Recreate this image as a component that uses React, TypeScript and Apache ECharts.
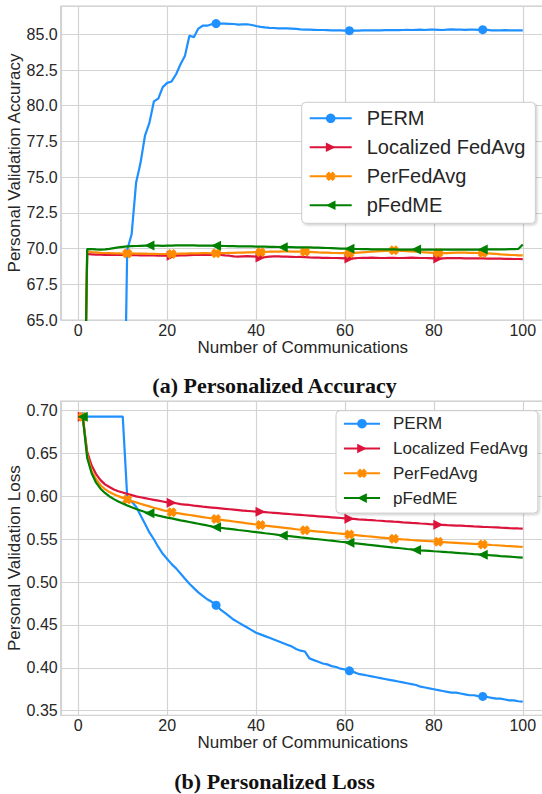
import React, { useEffect, useRef } from "react";
import * as echarts from "echarts";

const communications = Array.from({ length: 100 }, (_, i) => i + 1);
const seriesNames = ["PERM", "Localized FedAvg", "PerFedAvg", "pFedME"];
const xTicks = [0, 20, 40, 60, 80, 100];
const accTicks = [65.0, 67.5, 70.0, 72.5, 75.0, 77.5, 80.0, 82.5, 85.0];
const lossTicks = [0.35, 0.4, 0.45, 0.5, 0.55, 0.6, 0.65, 0.7];

const permAcc = [
  50, 50, 50, 50, 50, 50, 50, 50, 50, 50,
  69.9, 71.0, 74.6, 76.0, 77.9, 78.8, 80.3, 80.5, 81.3, 81.6,
  81.7, 82.2, 82.9, 83.5, 84.9, 84.8, 85.4, 85.6, 85.6, 85.7,
  85.75, 85.75, 85.74, 85.73, 85.72, 85.68, 85.7, 85.7, 85.65, 85.58,
  85.52, 85.48, 85.45, 85.44, 85.42, 85.42, 85.41, 85.4, 85.38, 85.34,
  85.32, 85.32, 85.31, 85.3, 85.3, 85.29, 85.28, 85.28, 85.27, 85.26,
  85.25, 85.26, 85.26, 85.27, 85.27, 85.27, 85.28, 85.28, 85.29, 85.29,
  85.3, 85.29, 85.3, 85.31, 85.3, 85.31, 85.32, 85.3, 85.33, 85.32,
  85.31, 85.3, 85.32, 85.34, 85.33, 85.32, 85.31, 85.33, 85.32, 85.31,
  85.32, 85.31, 85.28, 85.27, 85.28, 85.29, 85.28, 85.28, 85.27, 85.28,
];
const localizedAcc = [
  50, 69.62, 69.6, 69.58, 69.57, 69.56, 69.56, 69.55, 69.55, 69.55,
  69.54, 69.55, 69.54, 69.53, 69.53, 69.52, 69.52, 69.51, 69.5, 69.51,
  69.5, 69.5, 69.52, 69.53, 69.54, 69.55, 69.55, 69.56, 69.55, 69.56,
  69.57, 69.55, 69.52, 69.5, 69.45, 69.43, 69.45, 69.47, 69.46, 69.44,
  69.38, 69.4, 69.43, 69.45, 69.45, 69.44, 69.43, 69.42, 69.41, 69.42,
  69.4, 69.38, 69.37, 69.36, 69.35, 69.35, 69.34, 69.34, 69.33, 69.32,
  69.3, 69.32, 69.34, 69.35, 69.35, 69.36, 69.35, 69.34, 69.34, 69.35,
  69.35, 69.34, 69.34, 69.35, 69.36, 69.35, 69.34, 69.34, 69.33, 69.32,
  69.3, 69.32, 69.33, 69.34, 69.33, 69.33, 69.32, 69.32, 69.31, 69.32,
  69.31, 69.3, 69.3, 69.29, 69.29, 69.28, 69.28, 69.27, 69.27, 69.26,
];
const perFedAvgAcc = [
  50, 69.8, 69.76, 69.73, 69.7, 69.69, 69.68, 69.67, 69.66, 69.65,
  69.65, 69.66, 69.65, 69.64, 69.64, 69.63, 69.63, 69.62, 69.62, 69.62,
  69.62, 69.63, 69.64, 69.65, 69.66, 69.67, 69.67, 69.68, 69.68, 69.67,
  69.67, 69.68, 69.69, 69.7, 69.7, 69.71, 69.72, 69.73, 69.74, 69.75,
  69.75, 69.76, 69.78, 69.78, 69.79, 69.8, 69.8, 69.79, 69.79, 69.79,
  69.78, 69.77, 69.75, 69.73, 69.72, 69.72, 69.7, 69.69, 69.68, 69.68,
  69.68, 69.7, 69.72, 69.74, 69.76, 69.78, 69.8, 69.82, 69.84, 69.86,
  69.88, 69.86, 69.84, 69.82, 69.8, 69.78, 69.76, 69.74, 69.72, 69.7,
  69.69, 69.68, 69.68, 69.7, 69.71, 69.72, 69.71, 69.7, 69.7, 69.69,
  69.69, 69.67, 69.65, 69.63, 69.6, 69.58, 69.56, 69.55, 69.53, 69.52,
];
const pFedMEAcc = [
  50, 69.97, 69.96, 69.94, 69.93, 69.94, 69.98, 70.03, 70.08, 70.12,
  70.15, 70.17, 70.18, 70.19, 70.2, 70.21, 70.2, 70.2, 70.19, 70.2,
  70.21, 70.22, 70.22, 70.23, 70.22, 70.22, 70.21, 70.21, 70.2, 70.2,
  70.2, 70.19, 70.18, 70.17, 70.17, 70.16, 70.16, 70.15, 70.15, 70.14,
  70.13, 70.13, 70.12, 70.12, 70.11, 70.1, 70.1, 70.1, 70.09, 70.09,
  70.08, 70.08, 70.07, 70.06, 70.05, 70.04, 70.03, 70.02, 70.0, 69.99,
  69.98, 69.97, 69.97, 69.96, 69.96, 69.95, 69.95, 69.95, 69.94, 69.94,
  69.94, 69.93, 69.93, 69.93, 69.93, 69.93, 69.92, 69.92, 69.92, 69.92,
  69.92, 69.92, 69.92, 69.93, 69.93, 69.93, 69.93, 69.93, 69.93, 69.93,
  69.93, 69.94, 69.94, 69.94, 69.95, 69.95, 69.96, 69.96, 69.97, 70.28,
];

const permLoss = [
  0.693, 0.693, 0.693, 0.693, 0.693, 0.693, 0.693, 0.693, 0.693, 0.693,
  0.6, 0.594, 0.588, 0.578, 0.568, 0.558, 0.55, 0.541, 0.533, 0.527,
  0.521, 0.516, 0.51, 0.504, 0.498, 0.493, 0.488, 0.484, 0.48, 0.477,
  0.473, 0.468, 0.464, 0.46, 0.456, 0.453, 0.45, 0.447, 0.444, 0.441,
  0.439, 0.437, 0.435, 0.433, 0.431, 0.429, 0.427, 0.425, 0.422, 0.42,
  0.419, 0.411, 0.409, 0.407, 0.405, 0.404, 0.402, 0.401, 0.399, 0.398,
  0.3965, 0.395, 0.393, 0.392, 0.391, 0.39, 0.389, 0.388, 0.387, 0.386,
  0.385, 0.384, 0.383, 0.382, 0.381, 0.38, 0.378, 0.377, 0.376, 0.375,
  0.374, 0.373, 0.372, 0.371, 0.371, 0.37, 0.369, 0.368, 0.368, 0.367,
  0.3666, 0.366, 0.365, 0.364, 0.364, 0.363, 0.362, 0.362, 0.361, 0.3605,
];
const localizedLoss = [
  0.693, 0.652, 0.636, 0.626, 0.619, 0.614, 0.611, 0.608, 0.606, 0.6045,
  0.603, 0.6015, 0.6, 0.599, 0.598, 0.597, 0.596, 0.595, 0.594, 0.593,
  0.5925, 0.592, 0.591, 0.5905, 0.59, 0.5893, 0.5887, 0.588, 0.5875, 0.587,
  0.5865, 0.586, 0.5855, 0.585, 0.5845, 0.584, 0.5835, 0.583, 0.5827, 0.5823,
  0.582, 0.5816, 0.5812, 0.5808, 0.5804, 0.58, 0.5796, 0.5792, 0.5788, 0.5784,
  0.578, 0.5776, 0.5772, 0.5768, 0.5764, 0.576, 0.5756, 0.5752, 0.5748, 0.5744,
  0.574, 0.5737, 0.5733, 0.573, 0.5726, 0.5723, 0.5719, 0.5716, 0.5712, 0.5709,
  0.5705, 0.5702, 0.5698, 0.5695, 0.5691, 0.5688, 0.5684, 0.5681, 0.5677, 0.5674,
  0.567, 0.5668, 0.5665, 0.5663, 0.566, 0.5658, 0.5655, 0.5653, 0.565, 0.5648,
  0.5645, 0.5643, 0.564, 0.5638, 0.5635, 0.5633, 0.563, 0.5628, 0.5626, 0.5625,
];
const perFedAvgLoss = [
  0.693, 0.648, 0.63, 0.62, 0.613, 0.6085, 0.605, 0.6025, 0.6003, 0.5983,
  0.5965, 0.5947, 0.593, 0.5914, 0.5898, 0.5883, 0.5868, 0.5854, 0.584, 0.5827,
  0.5815, 0.5807, 0.5799, 0.5791, 0.5783, 0.5775, 0.5767, 0.5759, 0.5751, 0.5743,
  0.5735, 0.5728, 0.5721, 0.5714, 0.5707, 0.57, 0.5693, 0.5686, 0.5679, 0.5672,
  0.5665, 0.5659, 0.5653, 0.5647, 0.5641, 0.5635, 0.5629, 0.5623, 0.5617, 0.5611,
  0.5605, 0.56, 0.5595, 0.559, 0.5585, 0.558, 0.5575, 0.557, 0.5565, 0.556,
  0.5555, 0.555, 0.5545, 0.554, 0.5535, 0.553, 0.5525, 0.552, 0.5515, 0.551,
  0.5505, 0.5502, 0.5498, 0.5495, 0.5491, 0.5488, 0.5484, 0.5481, 0.5477, 0.5474,
  0.547, 0.5467, 0.5464, 0.5461, 0.5458, 0.5455, 0.5452, 0.5449, 0.5446, 0.5443,
  0.544, 0.5437, 0.5433, 0.543, 0.5427, 0.5423, 0.542, 0.5417, 0.5413, 0.541,
];
const pFedMELoss = [
  0.693, 0.645, 0.627, 0.616, 0.609, 0.604, 0.6, 0.5968, 0.594, 0.5916,
  0.5895, 0.5873, 0.5853, 0.5835, 0.5818, 0.5803, 0.5789, 0.5776, 0.5764, 0.5753,
  0.5743, 0.5732, 0.5721, 0.5711, 0.5701, 0.5691, 0.5681, 0.5671, 0.5661, 0.565,
  0.564, 0.5634, 0.5627, 0.5621, 0.5615, 0.5608, 0.5602, 0.5596, 0.5589, 0.5583,
  0.5577, 0.557, 0.5564, 0.5558, 0.5551, 0.5545, 0.5539, 0.5534, 0.5528, 0.5522,
  0.5517, 0.5511, 0.5505, 0.55, 0.5494, 0.5488, 0.5483, 0.5477, 0.5471, 0.5466,
  0.546, 0.5454, 0.5449, 0.5443, 0.5437, 0.5432, 0.5426, 0.542, 0.5415, 0.5409,
  0.5403, 0.5398, 0.5392, 0.5386, 0.5381, 0.5375, 0.5371, 0.5368, 0.5364, 0.536,
  0.5357, 0.5353, 0.5349, 0.5346, 0.5342, 0.5338, 0.5335, 0.5331, 0.5327, 0.5324,
  0.532, 0.5316, 0.5312, 0.5308, 0.5304, 0.5301, 0.5297, 0.5293, 0.5289, 0.5285,
];

const COLORS = ["#1E90FF", "#DC143C", "#FF8C00", "#008000"];
const SYMBOLS = [
  "circle",
  "path://M0,0L10,5L0,10Z",
  "path://M0,3L3,0L5,2L7,0L10,3L8,5L10,7L7,10L5,8L3,10L0,7L2,5Z",
  "path://M10,0L0,5L10,10Z",
];
const SYMBOL_SIZES = [9, 10, 10, 10];
const MARK_EVERY = [30, 20, 10, 15];
const FONT = '"Liberation Sans", Arial, sans-serif';
const TEXT = "#262626";
const GRIDLINE = "#d3d3d3";

function tickFormatter(ticks: number[], digits: number) {
  return (v: number) => {
    const t = ticks.find((tk) => Math.abs(tk - v) < 1e-6);
    return t === undefined ? "" : t.toFixed(digits);
  };
}

function buildSeries(groups: number[][], idx: number) {
  return groups.map((vals, k) => ({
    type: "line",
    name: seriesNames[k],
    xAxisIndex: idx,
    yAxisIndex: idx,
    symbol: SYMBOLS[k],
    symbolSize: SYMBOL_SIZES[k],
    showSymbol: true,
    clip: true,
    silent: true,
    z: 2 + k,
    lineStyle: { color: COLORS[k], width: 2.2 },
    itemStyle: { color: COLORS[k] },
    emphasis: { disabled: true },
    data: vals.map((v, i) =>
      i % MARK_EVERY[k] === 0
        ? { value: [communications[i], v] }
        : { value: [communications[i], v], symbol: "none" }
    ),
  }));
}

function axisX(gridIndex: number) {
  return {
    type: "value",
    gridIndex,
    min: -3.95,
    max: 104.95,
    splitNumber: 5,
    name: "Number of Communications",
    nameLocation: "middle",
    nameGap: 19,
    nameMoveOverlap: false,
    nameTextStyle: { fontSize: 17, color: TEXT, fontFamily: FONT },
    axisLine: { show: false },
    axisTick: { show: false },
    axisLabel: {
      fontSize: 16,
      color: TEXT,
      fontFamily: FONT,
      margin: 2,
      formatter: tickFormatter(xTicks, 0),
    },
    splitLine: { show: true, lineStyle: { color: GRIDLINE, width: 1.2 } },
  };
}

function axisY(gridIndex: number, name: string, extra: object, ticks: number[], digits: number) {
  return {
    type: "value",
    gridIndex,
    ...extra,
    name,
    nameLocation: "middle",
    nameGap: 38,
    nameMoveOverlap: false,
    nameTextStyle: { fontSize: 17, color: TEXT, fontFamily: FONT },
    axisLine: { show: false },
    axisTick: { show: false },
    axisLabel: { fontSize: 16, color: TEXT, fontFamily: FONT, margin: 3, formatter: tickFormatter(ticks, digits) },
    splitLine: { show: true, lineStyle: { color: GRIDLINE, width: 1.2 } },
  };
}

export default function App() {
  const ref = useRef<HTMLDivElement>(null);
  useEffect(() => {
    if (!ref.current) return;
    const chart = echarts.init(ref.current, undefined, { renderer: "svg" });
    const legendBase = {
      orient: "vertical",
      data: seriesNames,
      selectedMode: false,
      backgroundColor: "#ffffff",
      borderColor: "#cccccc",
      borderWidth: 1,
      borderRadius: 4,
      shadowColor: "rgba(0,0,0,0.18)",
      shadowBlur: 2,
      shadowOffsetX: 1.5,
      shadowOffsetY: 1.5,
      itemHeight: 12,
    };
    const gridBase = {
      show: true,
      borderColor: "#cccccc",
      borderWidth: 1.2,
      backgroundColor: "#ffffff",
      containLabel: false,
      outerBoundsMode: "none",
    };
    chart.setOption({
      animation: false,
      backgroundColor: "#ffffff",
      textStyle: { fontFamily: FONT },
      grid: [
        { ...gridBase, left: 60.75, top: 6, width: 484, height: 314 },
        { ...gridBase, left: 60.75, top: 401, width: 484, height: 314.3 },
      ],
      xAxis: [axisX(0), axisX(1)],
      yAxis: [
        axisY(0, "Personal Validation Accuracy", { min: 65, max: 86.98, interval: 2.5 }, accTicks, 1),
        axisY(1, "Personal Validation Loss", { min: 0.3446, max: 0.7113, splitNumber: 7 }, lossTicks, 2),
      ],
      legend: [
        {
          ...legendBase,
          left: 301.7,
          top: 102.3,
          itemWidth: 42,
          itemGap: 5,
          padding: [4, 10, 6, 7],
          textStyle: { fontSize: 20, lineHeight: 24, color: TEXT, fontFamily: FONT, padding: [0, 0, 0, 10] },
        },
        {
          ...legendBase,
          left: 336,
          top: 410.7,
          itemWidth: 36,
          itemGap: 4.8,
          padding: [3, 10, 5, 7],
          textStyle: { fontSize: 17, lineHeight: 20, color: TEXT, fontFamily: FONT, padding: [0, 0, 0, 8] },
        },
      ],
      graphic: [
        {
          type: "text",
          x: 274.5,
          y: 385.5,
          style: {
            text: "(a) Personalized Accuracy",
            fontSize: 22,
            fontWeight: "bold",
            fontFamily: '"Liberation Serif", "Times New Roman", serif',
            fill: "#111111",
            align: "center",
            verticalAlign: "middle",
          },
        },
        {
          type: "text",
          x: 274.5,
          y: 781,
          style: {
            text: "(b) Personalized Loss",
            fontSize: 22,
            fontWeight: "bold",
            fontFamily: '"Liberation Serif", "Times New Roman", serif',
            fill: "#111111",
            align: "center",
            verticalAlign: "middle",
          },
        },
      ],
      series: [
        ...buildSeries([permAcc, localizedAcc, perFedAvgAcc, pFedMEAcc], 0),
        ...buildSeries([permLoss, localizedLoss, perFedAvgLoss, pFedMELoss], 1),
      ],
    });
    return () => chart.dispose();
  }, []);
  return (
    <div
      ref={ref}
      style={{ position: "absolute", left: 0, top: 0, width: 542, height: 794, background: "#fff" }}
    />
  );
}
